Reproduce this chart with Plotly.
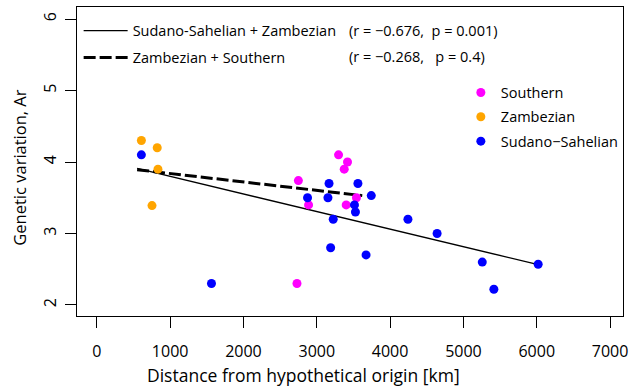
import numpy as np
import plotly.graph_objects as go

# ---- data ----
southern_x = [2749, 3297, 3419, 3374, 3541, 2888, 3401, 2730]
southern_y = [3.74, 4.10, 4.00, 3.90, 3.50, 3.40, 3.40, 2.30]

zambezian_x = [608, 824, 834, 753]
zambezian_y = [4.30, 4.20, 3.90, 3.39]

sudano_x = [608, 3167, 3561, 3743, 2874, 3152, 3514, 3527, 3224, 4243,
            4641, 3189, 3672, 5257, 6019, 5415, 1564]
sudano_y = [4.10, 3.70, 3.70, 3.53, 3.50, 3.50, 3.40, 3.30, 3.20, 3.20,
            3.00, 2.80, 2.70, 2.60, 2.57, 2.22, 2.30]

fit1_label = "Sudano-Sahelian + Zambezian"
fit1_stats = "(r = \u22120.676,  p = 0.001)"
fit1_range = [550, 6020]
fit2_label = "Zambezian + Southern"
fit2_stats = "(r = \u22120.268,   p = 0.4)"
fit2_range = [550, 3620]

x_ticks = [0, 1000, 2000, 3000, 4000, 5000, 6000, 7000]
y_ticks = [2, 3, 4, 5, 6]

x_title = "Distance from hypothetical origin [km]"
y_title = "Genetic variation, Ar"

FONT = "Open Sans"

# ---- regression lines from the data ----
def fit_line(xs, ys, xr):
    b, a = np.polyfit(xs, ys, 1)
    xr = np.array(xr, dtype=float)
    return xr, a + b * xr

l1x, l1y = fit_line(sudano_x + zambezian_x, sudano_y + zambezian_y, fit1_range)
l2x, l2y = fit_line(zambezian_x + southern_x, zambezian_y + southern_y, fit2_range)

fig = go.Figure()

fig.add_trace(go.Scatter(x=l1x, y=l1y, mode="lines", name=fit1_label,
                         line=dict(color="black", width=1.4),
                         legend="legend2", legendgroup="a"))
fig.add_trace(go.Scatter(x=l2x, y=l2y, mode="lines", name=fit2_label,
                         line=dict(color="black", width=3, dash="12px,4px"),
                         legend="legend2", legendgroup="b"))

mk = 9
fig.add_trace(go.Scatter(x=southern_x, y=southern_y, mode="markers", name="Southern",
                         marker=dict(color="#FF00FF", size=mk), legendgroup="s"))
fig.add_trace(go.Scatter(x=zambezian_x, y=zambezian_y, mode="markers", name="Zambezian",
                         marker=dict(color="#FFA500", size=mk), legendgroup="z"))
fig.add_trace(go.Scatter(x=sudano_x, y=sudano_y, mode="markers", name="Sudano\u2212Sahelian",
                         marker=dict(color="#0000FF", size=mk), legendgroup="d"))

axis_common = dict(showline=True, linecolor="black", linewidth=1, mirror=True,
                   ticks="outside", ticklen=11, tickwidth=1, tickcolor="black",
                   showgrid=False, zeroline=False,
                   tickfont=dict(family=FONT, size=16, color="black"))

fig.update_layout(
    width=634, height=386,
    margin=dict(l=77, r=6, t=7, b=70),
    plot_bgcolor="white", paper_bgcolor="white",
    font=dict(family=FONT, color="black"),
    xaxis=dict(range=[-270, 7176], tickvals=x_ticks,
               ticklabelstandoff=10, **axis_common),
    yaxis=dict(range=[1.846, 6.168], tickvals=y_ticks, tickangle=-90,
               ticklabelstandoff=3, **axis_common),
    legend=dict(x=0.703, y=0.775, xanchor="left", yanchor="top",
                bgcolor="rgba(0,0,0,0)", font=dict(family=FONT, size=14.5),
                tracegroupgap=2.5, traceorder="grouped"),
    legend2=dict(x=0.003, y=0.975, xanchor="left", yanchor="top",
                 bgcolor="rgba(0,0,0,0)", font=dict(family=FONT, size=14.5),
                 tracegroupgap=5, traceorder="grouped", itemwidth=44),
    showlegend=True,
)

# axis titles (placed as in the reference)
fig.add_annotation(xref="paper", yref="paper", x=0.415, y=-0.19, xanchor="center",
                   yanchor="middle", text=x_title, showarrow=False,
                   font=dict(family=FONT, size=17.5))
fig.add_annotation(xref="paper", yref="paper", x=-0.105, y=0.479, xanchor="center",
                   yanchor="middle", text=y_title, showarrow=False, textangle=-90,
                   font=dict(family=FONT, size=16.5))

fig.add_annotation(xref="paper", yref="paper", x=0.494, y=0.923, xanchor="left",
                   yanchor="middle", text=fit1_stats, showarrow=False,
                   font=dict(family=FONT, size=14.5))
fig.add_annotation(xref="paper", yref="paper", x=0.494, y=0.84, xanchor="left",
                   yanchor="middle", text=fit2_stats, showarrow=False,
                   font=dict(family=FONT, size=14.5))

fig.write_html("out.html")
